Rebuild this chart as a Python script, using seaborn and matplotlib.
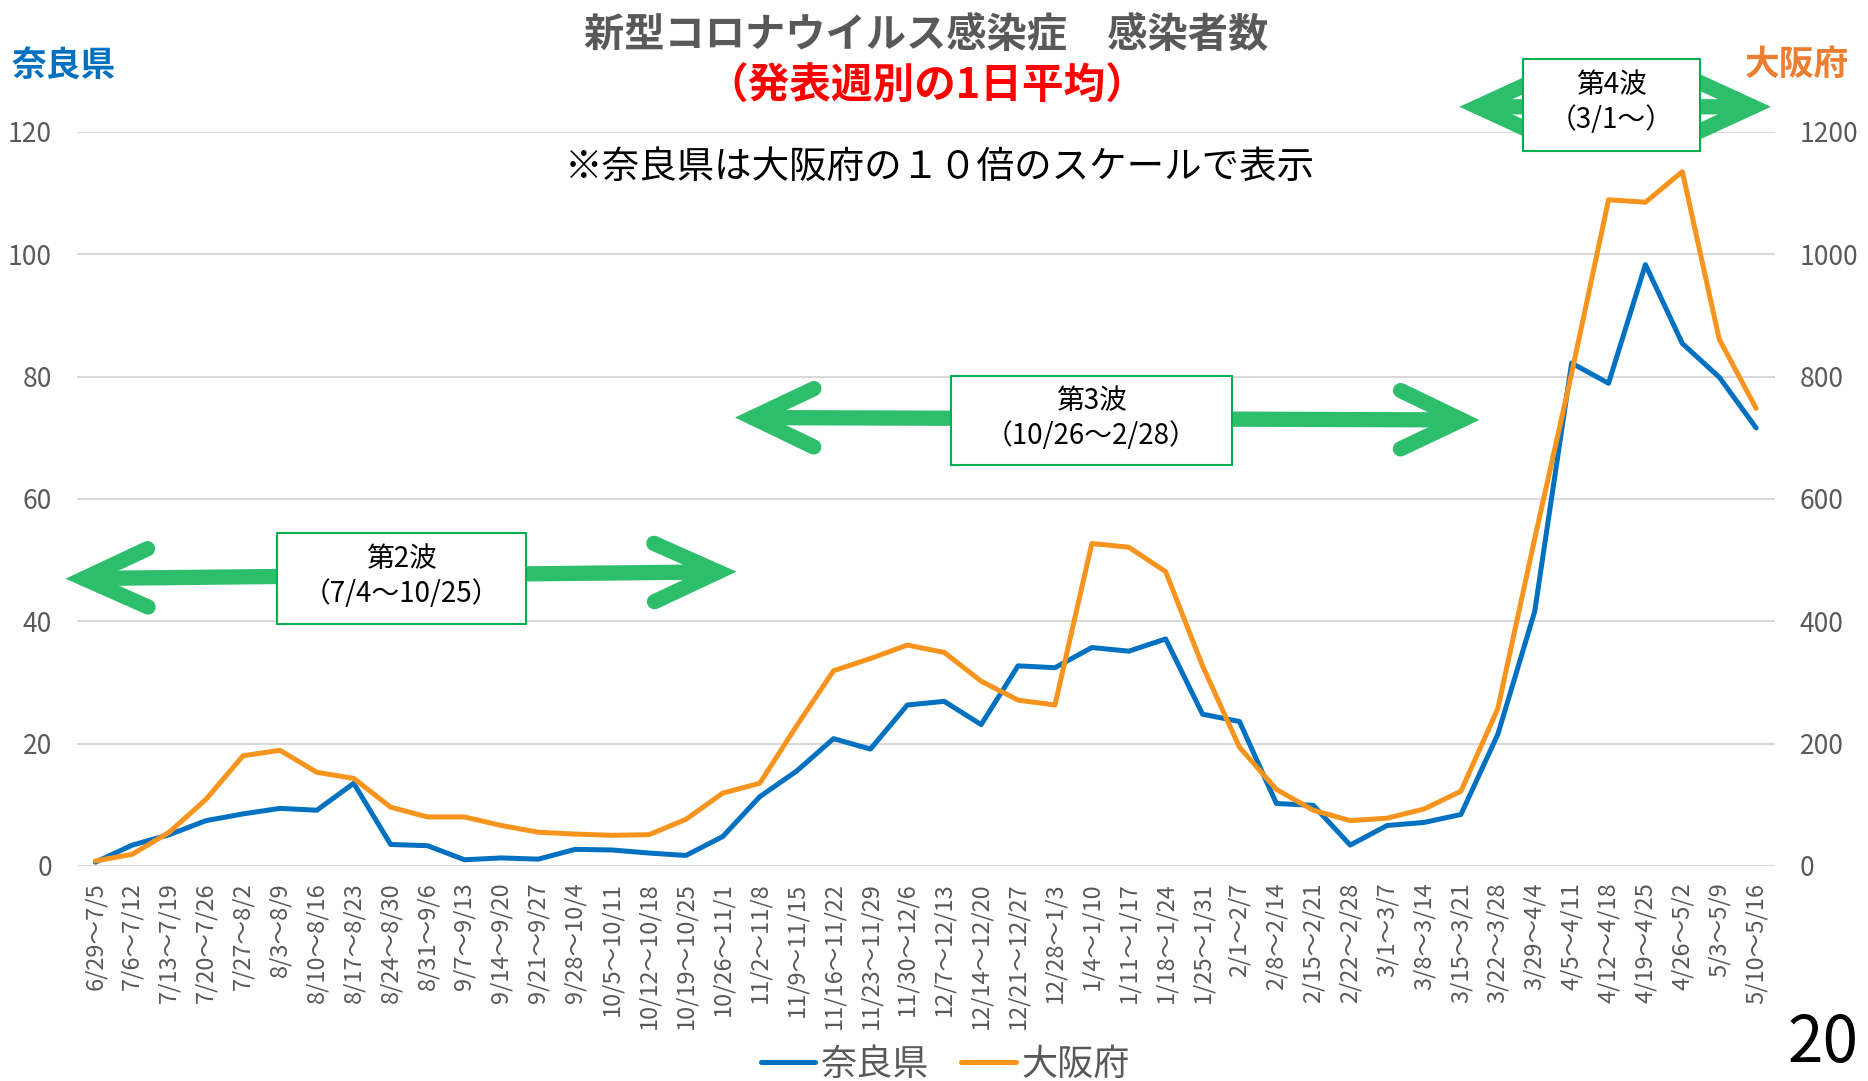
import numpy as np
import matplotlib
matplotlib.use('Agg')
import matplotlib.pyplot as plt
from matplotlib.patches import Rectangle, FancyArrowPatch
import seaborn as sns

# Datos (promedio diario por semana)
semanas = ['6/29～7/5', '7/6～7/12', '7/13～7/19', '7/20～7/26', '7/27～8/2',
           '8/3～8/9', '8/10～8/16', '8/17～8/23', '8/24～8/30', '8/31～9/6',
           '9/7～9/13', '9/14～9/20', '9/21～9/27', '9/28～10/4', '10/5～10/11',
           '10/12～10/18', '10/19～10/25', '10/26～11/1', '11/2～11/8',
           '11/9～11/15', '11/16～11/22', '11/23～11/29', '11/30～12/6',
           '12/7～12/13', '12/14～12/20', '12/21～12/27', '12/28～1/3',
           '1/4～1/10', '1/11～1/17', '1/18～1/24', '1/25～1/31', '2/1～2/7',
           '2/8～2/14', '2/15～2/21', '2/22～2/28', '3/1～3/7', '3/8～3/14',
           '3/15～3/21', '3/22～3/28', '3/29～4/4', '4/5～4/11', '4/12～4/18',
           '4/19～4/25', '4/26～5/2', '5/3～5/9', '5/10～5/16']
nara = [0.6, 3.4, 5.1, 7.4, 8.5, 9.4, 9.1, 13.5, 3.5, 3.3,
        1.0, 1.3, 1.1, 2.7, 2.6, 2.1, 1.7, 4.8, 11.3, 15.5,
        20.8, 19.1, 26.3, 26.9, 23.1, 32.7, 32.4, 35.7, 35.1, 37.1,
        24.8, 23.6, 10.2, 9.9, 3.4, 6.6, 7.1, 8.4, 21.5, 41.6,
        82.2, 78.9, 98.3, 85.4, 79.9, 71.6]
osaka = [8, 19, 55, 109, 180, 189, 153, 143, 96, 80,
         80, 66, 55, 52, 50, 51, 76, 119, 135, 229,
         319, 339, 361, 349, 302, 271, 263, 527, 521, 481,
         327, 194, 125, 91, 74, 78, 93, 122, 257, 535,
         805, 1089, 1085, 1135, 861, 748]

olas = ['第2波', '第3波', '第4波']
periodos = ['（7/4～10/25）', '（10/26～2/28）', '（3/1～）']

azul = '#0070C0'
naranja = '#F7941E'
verde = '#2DBE6C'
gris = '#595959'

sns.set_theme(style='white')
plt.rcParams['font.family'] = ['Noto Sans CJK JP', 'DejaVu Sans']

fig = plt.figure(figsize=(18.68, 10.81), dpi=100)
ax = fig.add_axes([0.0412, 0.199, 0.9088, 0.679])
ax2 = ax.twinx()

pos = np.arange(len(semanas))
sns.lineplot(x=pos, y=nara, ax=ax, color=azul, linewidth=3.6, label='奈良県', legend=False)
sns.lineplot(x=pos, y=osaka, ax=ax2, color=naranja, linewidth=3.6, label='大阪府', legend=False)

ax.set_xlim(-0.5, len(semanas) - 0.5)
ax.set_ylim(0, 120)
ax2.set_ylim(0, 1200)
ax.set_yticks(range(0, 121, 20))
ax2.set_yticks(range(0, 1201, 200))
ax.set_xticks(pos)
ax.set_xticklabels(semanas, rotation=90)

ax.grid(axis='y', color='#d9d9d9', lw=1.5)
ax.grid(axis='x', visible=False)
ax2.grid(False)
ax.set_axisbelow(True)
for a in (ax, ax2):
    for s in a.spines.values():
        s.set_visible(False)
ax.tick_params(axis='y', length=0, pad=18, labelsize=19, labelcolor=gris)
ax.tick_params(axis='x', length=0, pad=12, labelsize=17, labelcolor=gris)
ax2.tick_params(axis='y', length=0, pad=18, labelsize=19, labelcolor=gris)
ax.set_xlabel('')
ax.set_ylabel('')
ax2.set_ylabel('')

# Flechas y cajas de cada ola
def flecha(x0, y0, x1, y1, hl, hw):
    f = FancyArrowPatch((x0, y0), (x1, y1),
                        arrowstyle=f'<->,head_length={hl},head_width={hw}',
                        mutation_scale=1, lw=11, color=verde, capstyle='round',
                        joinstyle='miter', shrinkA=0, shrinkB=0, clip_on=False,
                        zorder=5, transform=ax.transData)
    ax.add_patch(f)

def caja(x0, x1, y0, y1, ola, periodo, yt1, yt2):
    ax.add_patch(Rectangle((x0, y0), x1 - x0, y1 - y0, facecolor='white',
                           edgecolor='#00B050', lw=1.5, zorder=6, clip_on=False))
    xc = (x0 + x1) / 2
    ax.text(xc, yt1, ola, ha='center', va='center', fontsize=20, color='black',
            zorder=7, clip_on=False)
    ax.text(xc, yt2, periodo, ha='center', va='center', fontsize=20, color='black',
            zorder=7, clip_on=False)

flecha(-0.81, 46.95, 17.37, 48.1, 46, 21)
caja(4.91, 11.68, 39.5, 54.4, olas[0], periodos[0], 50.1, 44.4)
flecha(17.33, 73.3, 37.5, 72.9, 44, 21)
caja(23.18, 30.79, 65.5, 80.1, olas[1], periodos[1], 76.0, 70.3)
flecha(36.96, 124.1, 45.4, 124.1, 50, 23)
caja(38.67, 43.48, 116.9, 131.9, olas[2], periodos[2], 127.6, 122.0)

# Textos
fig.text(0.496, 0.967, '新型コロナウイルス感染症　感染者数', ha='center', va='center',
         fontsize=29, fontweight='bold', color=gris)
fig.text(0.496, 0.920, '（発表週別の1日平均）', ha='center', va='center',
         fontsize=30, fontweight='bold', color='#FF0000')
fig.text(0.503, 0.845, '※奈良県は大阪府の１０倍のスケールで表示', ha='center', va='center',
         fontsize=27, color='black')
fig.text(0.0064, 0.940, '奈良県', ha='left', va='center', fontsize=25,
         fontweight='bold', color=azul)
fig.text(0.990, 0.940, '大阪府', ha='right', va='center', fontsize=25,
         fontweight='bold', color='#ED7D31')
fig.text(0.976, 0.004, '20', ha='center', va='bottom', fontsize=46, color='black')

h1 = ax.get_lines()[0]
h2 = ax2.get_lines()[0]
fig.legend([h1, h2], ['奈良県', '大阪府'], loc='center', bbox_to_anchor=(0.506, 0.015),
           ncol=2, frameon=False, fontsize=26, labelcolor=gris, handlelength=1.5,
           handletextpad=0.15, columnspacing=0.9)

plt.savefig('out.png', dpi=100)
